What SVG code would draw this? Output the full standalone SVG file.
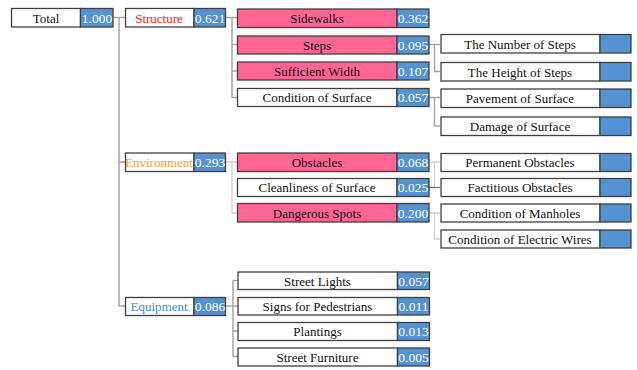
<svg xmlns="http://www.w3.org/2000/svg" width="637" height="370" viewBox="0 0 637 370">
<style>
.box{fill:#fff;stroke:#404040;stroke-width:1.3}
.pink{fill:#FF6694;stroke:#404040;stroke-width:1.3}
.val{fill:#5592D2;stroke:#404040;stroke-width:1.3}
.t{font-family:"Liberation Serif","Times New Roman",serif;font-size:13px;fill:#111;text-anchor:middle;dominant-baseline:central}
.v{font-family:"Liberation Serif","Times New Roman",serif;font-size:13.5px;fill:#fff;text-anchor:middle;dominant-baseline:central}
.c{fill:none;stroke:#A6A6A6;stroke-width:1.5}
.cl{fill:none;stroke:#CFCFCF;stroke-width:1.3}
.cd{fill:none;stroke:#6E6E6E;stroke-width:1.3}
</style>
<rect width="637" height="370" fill="#fff"/>
<g id="connectors">
<path class="c" d="M113 17.5H125M119 17.5V306H125M119 162H125"/>
<path class="c" d="M225 17.5H237M232 17.5V97.5H237M232 44.5H237M232 71H237"/>
<path class="c" d="M429 44.5H440M434.5 44.5V71.5H440"/>
<path class="c" d="M429 97.5H440M434.5 97.5V126H440"/>
<path class="cl" d="M226 162H237M232 162V213H237"/>
<path class="cl" d="M429 162H440M434.5 162V187.5"/>
<path class="cd" d="M429 187.5H440"/>
<path class="cl" d="M429 213H440M434.5 213V239H440"/>
<path class="c" d="M226 306H238M233 280.5V356.5M233 280.5H238M233 331H238M233 356.5H238"/>
</g>
<g id="total"><rect class="box" x="11.5" y="8.5" width="69" height="18.5"/><rect class="val" x="80.5" y="8.5" width="32.5" height="18.5"/><text class="t" x="46" y="18">Total</text><text class="v" x="97" y="18">1.000</text></g>
<g id="structure"><rect class="box" x="125.5" y="8.5" width="68.5" height="18.5"/><rect class="val" x="194" y="8.5" width="31.5" height="18.5"/><text class="t" x="159" y="18" style="fill:#FF1A1A">Structure</text><text class="v" x="210" y="18">0.621</text></g>
<g id="environment"><rect class="box" x="125.5" y="153" width="68.5" height="18.5"/><rect class="val" x="194" y="153" width="31.5" height="18.5"/><text class="t" x="159" y="162.5" style="fill:#F5A030">Environment</text><text class="v" x="210" y="162.5">0.293</text></g>
<g id="equipment"><rect class="box" x="125.5" y="297.5" width="68.5" height="18"/><rect class="val" x="194" y="297.5" width="31.5" height="18"/><text class="t" x="159" y="306.5" style="fill:#3A8FD8">Equipment</text><text class="v" x="210" y="306.5">0.086</text></g>
<g id="sidewalks"><rect class="pink" x="237.5" y="9" width="159.5" height="18.5"/><rect class="val" x="397" y="9" width="32" height="18.5"/><text class="t" x="317" y="18.5">Sidewalks</text><text class="v" x="413" y="18.5">0.362</text></g>
<g id="steps"><rect class="pink" x="237.5" y="36" width="159.5" height="18"/><rect class="val" x="397" y="36" width="32" height="18"/><text class="t" x="317" y="45">Steps</text><text class="v" x="413" y="45">0.095</text></g>
<g id="width"><rect class="pink" x="237.5" y="62" width="159.5" height="18"/><rect class="val" x="397" y="62" width="32" height="18"/><text class="t" x="317" y="71">Sufficient Width</text><text class="v" x="413" y="71">0.107</text></g>
<g id="surface"><rect class="box" x="237.5" y="88.5" width="159.5" height="18"/><rect class="val" x="397" y="88.5" width="32" height="18"/><text class="t" x="317" y="97.5">Condition of Surface</text><text class="v" x="413" y="97.5">0.057</text></g>
<g id="obstacles"><rect class="pink" x="237.5" y="153" width="159.5" height="18.5"/><rect class="val" x="397" y="153" width="32" height="18.5"/><text class="t" x="317" y="162.5">Obstacles</text><text class="v" x="413" y="162.5">0.068</text></g>
<g id="cleanliness"><rect class="box" x="237.5" y="178.5" width="159.5" height="18"/><rect class="val" x="397" y="178.5" width="32" height="18"/><text class="t" x="317" y="187.5">Cleanliness of Surface</text><text class="v" x="413" y="187.5">0.025</text></g>
<g id="dangerous"><rect class="pink" x="237.5" y="203.5" width="159.5" height="18.5"/><rect class="val" x="397" y="203.5" width="32" height="18.5"/><text class="t" x="317" y="213">Dangerous Spots</text><text class="v" x="413" y="213">0.200</text></g>
<g id="lights"><rect class="box" x="238" y="272" width="159.5" height="17.5"/><rect class="val" x="397.5" y="272" width="32" height="17.5"/><text class="t" x="317.5" y="281">Street Lights</text><text class="v" x="413.5" y="281">0.057</text></g>
<g id="signs"><rect class="box" x="238" y="297.5" width="159.5" height="17.5"/><rect class="val" x="397.5" y="297.5" width="32" height="17.5"/><text class="t" x="317.5" y="306.5">Signs for Pedestrians</text><text class="v" x="413.5" y="306.5">0.011</text></g>
<g id="plantings"><rect class="box" x="238" y="322.5" width="159.5" height="18"/><rect class="val" x="397.5" y="322.5" width="32" height="18"/><text class="t" x="317.5" y="331.5">Plantings</text><text class="v" x="413.5" y="331.5">0.013</text></g>
<g id="furniture"><rect class="box" x="238" y="348" width="159.5" height="18"/><rect class="val" x="397.5" y="348" width="32" height="18"/><text class="t" x="317.5" y="357">Street Furniture</text><text class="v" x="413.5" y="357">0.005</text></g>
<g id="numsteps"><rect class="box" x="441" y="34.5" width="159" height="18.5"/><rect class="val" x="600" y="34.5" width="31" height="18.5"/><text class="t" x="520" y="44">The Number of Steps</text></g>
<g id="heightsteps"><rect class="box" x="441" y="62.5" width="159" height="18.5"/><rect class="val" x="600" y="62.5" width="31" height="18.5"/><text class="t" x="520" y="72">The Height of Steps</text></g>
<g id="pavement"><rect class="box" x="441" y="89" width="159" height="18.5"/><rect class="val" x="600" y="89" width="31" height="18.5"/><text class="t" x="520" y="98.5">Pavement of Surface</text></g>
<g id="damage"><rect class="box" x="441" y="117" width="159" height="18.5"/><rect class="val" x="600" y="117" width="31" height="18.5"/><text class="t" x="520" y="126.5">Damage of Surface</text></g>
<g id="permanent"><rect class="box" x="441" y="153.5" width="159" height="18"/><rect class="val" x="600" y="153.5" width="31" height="18"/><text class="t" x="520" y="162.5">Permanent Obstacles</text></g>
<g id="factitious"><rect class="box" x="441" y="178.5" width="159" height="18"/><rect class="val" x="600" y="178.5" width="31" height="18"/><text class="t" x="520" y="187.5">Factitious Obstacles</text></g>
<g id="manholes"><rect class="box" x="441" y="204" width="159" height="18"/><rect class="val" x="600" y="204" width="31" height="18"/><text class="t" x="520" y="213">Condition of Manholes</text></g>
<g id="wires"><rect class="box" x="441" y="230" width="159" height="18"/><rect class="val" x="600" y="230" width="31" height="18"/><text class="t" x="520" y="239">Condition of Electric Wires</text></g>
</svg>
